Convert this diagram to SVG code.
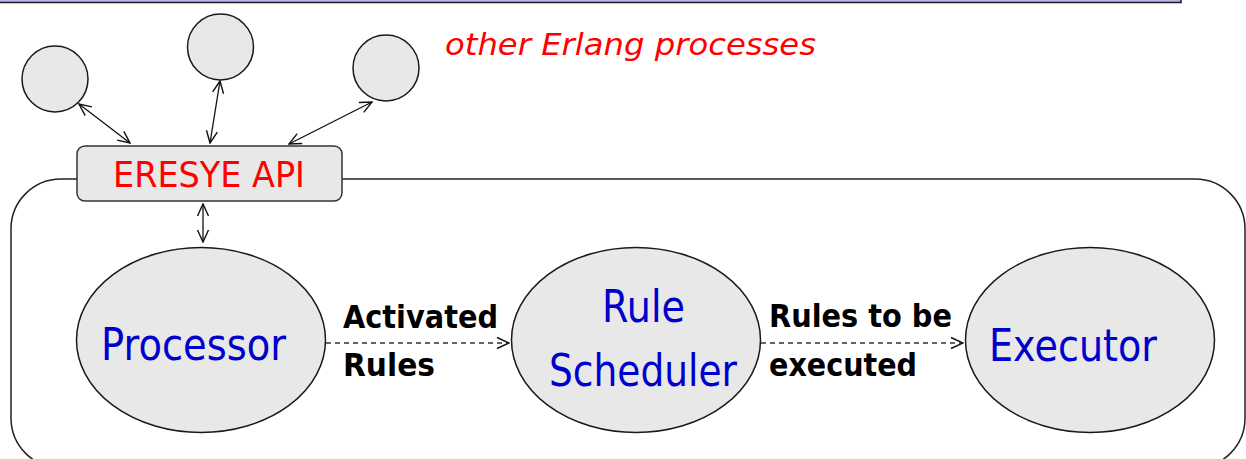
<svg xmlns="http://www.w3.org/2000/svg" width="1246" height="459" viewBox="0 0 1246 459">
  <defs>
    <style>
      .proc { fill: #e8e8e8; stroke: #1a1a1a; stroke-width: 1.5; }
      .frame { fill: none; stroke: #222; stroke-width: 1.5; }
      .link { stroke: #111; stroke-width: 1.3; fill: none; marker-start: url(#open); marker-end: url(#open); }
      .flow { stroke: #333; stroke-width: 1.3; fill: none; stroke-dasharray: 5 4; marker-end: url(#open); }
      .big { font-family: "DejaVu Sans", Verdana, sans-serif; font-size: 44px; fill: #0000cc; }
      .api { font-family: "DejaVu Sans", Verdana, sans-serif; font-size: 36px; fill: #ff0000; }
      .lbl { font-family: "DejaVu Sans", Verdana, sans-serif; font-size: 32px; font-weight: bold; fill: #000; }
      .note { font-family: "DejaVu Sans", Verdana, sans-serif; font-size: 30px; font-style: italic; fill: #ff0000; }
    </style>
    <marker id="open" viewBox="0 0 14 14" refX="13" refY="7" markerWidth="14" markerHeight="14" markerUnits="userSpaceOnUse" orient="auto-start-reverse">
      <path d="M1,1.5 L13,7 L1,12.5" fill="none" stroke="#111" stroke-width="1.4"/>
    </marker>
  </defs>

  <!-- title bar edge -->
  <rect x="-2" y="-20" width="1183" height="22.5" fill="#b4b4e6" stroke="#1a1a2a" stroke-width="1.5"/>

  <!-- system boundary -->
  <rect class="frame" x="11" y="179" width="1234" height="289" rx="50" ry="50"/>

  <g id="connectors">
    <line class="link" x1="79" y1="104" x2="130" y2="143"/>
    <line class="link" x1="220" y1="81" x2="210" y2="143"/>
    <line class="link" x1="372" y1="102" x2="289" y2="144"/>
    <line class="link" x1="203" y1="204" x2="203" y2="242"/>
    <line class="flow" x1="326" y1="343" x2="509" y2="343"/>
    <line class="flow" x1="761" y1="343" x2="963" y2="343"/>
  </g>

  <g id="ext1"><circle class="proc" cx="55" cy="79" r="33"/></g>
  <g id="ext2"><circle class="proc" cx="220.5" cy="47" r="33"/></g>
  <g id="ext3"><circle class="proc" cx="386" cy="68" r="33"/></g>

  <text class="note" x="445" y="55" textLength="371" lengthAdjust="spacingAndGlyphs">other Erlang processes</text>

  <g id="api">
    <rect x="77" y="146" width="265" height="55" rx="8" ry="8" fill="#e8e8e8" stroke="#333" stroke-width="1.5"/>
    <text class="api" x="113" y="187" textLength="192" lengthAdjust="spacingAndGlyphs">ERESYE API</text>
  </g>

  <g id="processor">
    <ellipse class="proc" cx="201" cy="340" rx="124.5" ry="92.5"/>
    <text class="big" x="101" y="360" textLength="185" lengthAdjust="spacingAndGlyphs">Processor</text>
  </g>

  <g id="scheduler">
    <ellipse class="proc" cx="636" cy="340" rx="124.5" ry="92.5"/>
    <text class="big" x="602" y="322" textLength="83" lengthAdjust="spacingAndGlyphs">Rule</text>
    <text class="big" x="549" y="386" textLength="188" lengthAdjust="spacingAndGlyphs">Scheduler</text>
  </g>

  <g id="executor">
    <ellipse class="proc" cx="1090" cy="340" rx="124.5" ry="92.5"/>
    <text class="big" x="989" y="361" textLength="168" lengthAdjust="spacingAndGlyphs">Executor</text>
  </g>

  <g id="labels">
    <text class="lbl" x="343" y="328" textLength="155" lengthAdjust="spacingAndGlyphs">Activated</text>
    <text class="lbl" x="343" y="376" textLength="92" lengthAdjust="spacingAndGlyphs">Rules</text>
    <text class="lbl" x="769" y="327" textLength="183" lengthAdjust="spacingAndGlyphs">Rules to be</text>
    <text class="lbl" x="769" y="376" textLength="148" lengthAdjust="spacingAndGlyphs">executed</text>
  </g>
</svg>
